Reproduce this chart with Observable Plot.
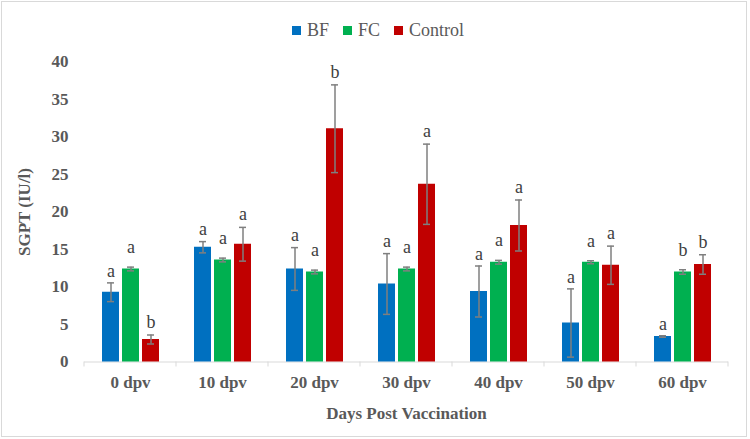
<!DOCTYPE html>
<html>
<head>
<meta charset="utf-8">
<script src="https://cdn.jsdelivr.net/npm/d3@7"></script>
<script src="https://cdn.jsdelivr.net/npm/@observablehq/plot@0.6"></script>
<style>
  body { margin: 0; background: #fff; }
  #wrap { position: relative; width: 750px; height: 439px; overflow: hidden; background: #fff;
          font-family: "Liberation Serif", "Times New Roman", serif; }
  #border { position: absolute; left: 1px; top: 1px; width: 746px; height: 436px;
            border: 1px solid #d9d9d9; box-sizing: border-box; pointer-events: none; }
  #legend { height: 45px; box-sizing: border-box; padding-top: 16px; padding-left: 6px;
            display: flex; justify-content: center; align-items: center; gap: 14px; }
  #legend .item { display: flex; align-items: center; height: 22px; font-size: 18px; color: #595959; }
  #legend .sw { width: 9px; height: 9px; margin-right: 6px; display: inline-block; }
  #chart svg { display: block; }
</style>
</head>
<body>
<div id="wrap">
  <div id="legend"></div>
  <div id="chart"></div>
  <div id="border"></div>
</div>
<script>
// ---- data ----
const days = ["0 dpv", "10 dpv", "20 dpv", "30 dpv", "40 dpv", "50 dpv", "60 dpv"];
const seriesNames = ["BF", "FC", "Control"];
const seriesColors = ["#0070C0", "#00B050", "#C00000"];

const bfMean = [9.3, 15.3, 12.4, 10.4, 9.4, 5.2, 3.4];
const bfSD   = [1.25, 0.75, 2.85, 4.05, 3.4, 4.55, 0.1];
const bfLetters = ["a", "a", "a", "a", "a", "a", "a"];

const fcMean = [12.4, 13.6, 12.0, 12.4, 13.3, 13.3, 12.0];
const fcSD   = [0.25, 0.25, 0.25, 0.25, 0.25, 0.2, 0.3];
const fcLetters = ["a", "a", "a", "a", "a", "a", "b"];

const ctrlMean = [3.0, 15.7, 31.1, 23.7, 18.2, 12.9, 13.0];
const ctrlSD   = [0.6, 2.25, 5.85, 5.35, 3.4, 2.55, 1.3];
const ctrlLetters = ["b", "a", "b", "a", "a", "a", "b"];

const yTicks = [0, 5, 10, 15, 20, 25, 30, 35, 40];

// ---- table built from the arrays ----
const means = [bfMean, fcMean, ctrlMean];
const sds = [bfSD, fcSD, ctrlSD];
const letters = [bfLetters, fcLetters, ctrlLetters];
const rows = [];
days.forEach((day, i) => {
  seriesNames.forEach((s, j) => {
    rows.push({ day, series: s, mean: means[j][i], sd: sds[j][i], letter: letters[j][i] });
  });
});

// ---- legend ----
const legend = document.getElementById("legend");
seriesNames.forEach((s, j) => {
  const it = document.createElement("div");
  it.className = "item";
  it.innerHTML = `<span class="sw" style="background:${seriesColors[j]}"></span><span>${s}</span>`;
  legend.appendChild(it);
});

const letterGap = { BF: 12, FC: 20, Control: 13 };
const lo = d => d.mean - d.sd;
const hi = d => d.mean + d.sd;
const textStyle = { fontSize: 17, fontWeight: "bold", color: "#595959" };

const plot = Plot.plot({
  width: 750,
  height: 394,
  marginLeft: 81,
  marginRight: 20,
  marginTop: 16.5,
  marginBottom: 77.5,
  style: { fontFamily: "'Liberation Serif', 'Times New Roman', serif", background: "white", overflow: "visible" },
  fx: { domain: days, padding: 0 },
  x: { domain: seriesNames, paddingInner: 0.16, paddingOuter: 0.85, axis: null },
  y: { domain: [0, 40] },
  color: { domain: seriesNames, range: seriesColors },
  marks: [
    Plot.axisY({ ticks: yTicks, tickSize: 0, tickPadding: 16, ...textStyle,
      label: "SGPT (IU/l)", labelAnchor: "center", labelOffset: 67, labelArrow: "none" }),
    Plot.axisFx({ anchor: "bottom", tickSize: 0, tickPadding: 14, ...textStyle,
      label: "Days Post Vaccination", labelAnchor: "center", labelOffset: 57, labelArrow: "none" }),
    Plot.ruleY([0], { stroke: "#d9d9d9", strokeWidth: 1 }),
    Plot.barY(rows, { fx: "day", x: "series", y: "mean", fill: "series" }),
    Plot.ruleX(rows, { fx: "day", x: "series", y1: lo, y2: hi, stroke: "#7f7f7f", strokeWidth: 1.5 }),
    Plot.tickY(rows, { fx: "day", x: "series", y: lo, stroke: "#7f7f7f", strokeWidth: 1.5, insetLeft: 5, insetRight: 5 }),
    Plot.tickY(rows, { fx: "day", x: "series", y: hi, stroke: "#7f7f7f", strokeWidth: 1.5, insetLeft: 5, insetRight: 5 }),
    ...seriesNames.map(s => Plot.text(rows.filter(r => r.series === s), {
      fx: "day", x: "series", y: hi, text: "letter", dy: -letterGap[s],
      fontSize: 18, fill: "#404040"
    }))
  ]
});

// category boundary ticks on the x axis line, from Plot's own scales
const fxs = plot.scale("fx");
const ys = plot.scale("y");
const y0 = ys.apply(0);
const edges = days.map(d => fxs.apply(d)).concat([fxs.apply(days[days.length - 1]) + fxs.bandwidth]);
d3.select(plot).append("g")
  .selectAll("line").data(edges).join("line")
  .attr("x1", x => x).attr("x2", x => x)
  .attr("y1", y0).attr("y2", y0 + 5)
  .attr("stroke", "#d9d9d9").attr("stroke-width", 1);

document.getElementById("chart").appendChild(plot);
</script>
</body>
</html>
